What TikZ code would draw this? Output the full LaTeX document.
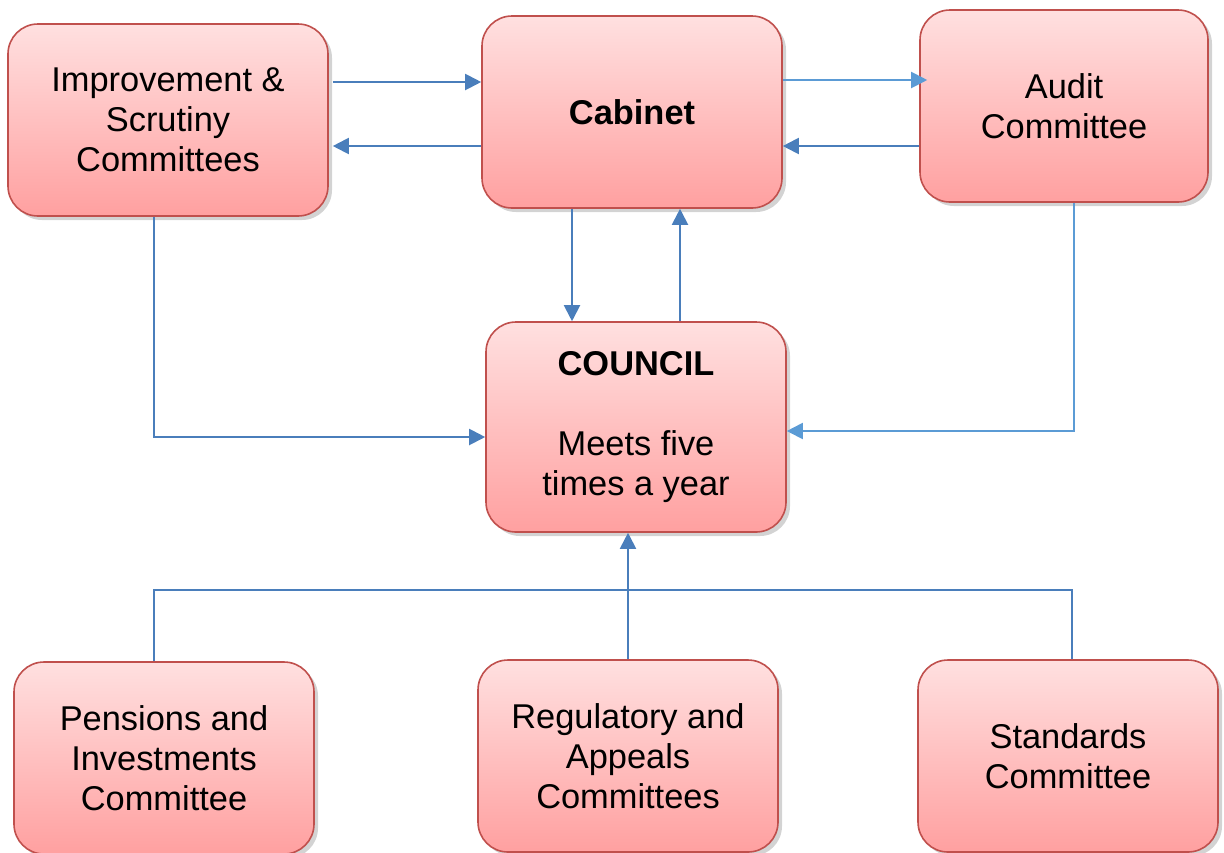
\documentclass[tikz,border=0pt]{standalone}
\usepackage{fontspec}
\setmainfont{Liberation Sans}
\usepackage{xcolor}
\usetikzlibrary{arrows.meta, positioning, shadows}

\definecolor{boxtop}{HTML}{FFE0E0}
\definecolor{boxbot}{HTML}{FFA0A0}
\definecolor{boxline}{HTML}{C0504D}
\definecolor{arrblue}{HTML}{4A7EBB}
\definecolor{arrlight}{HTML}{5B9BD5}

\begin{document}
\begin{tikzpicture}[
        x=0.5pt, y=-0.5pt,
        unit/.style={rectangle, rounded corners=15pt, draw=boxline, line width=0.8pt,
            top color=boxtop, bottom color=boxbot, align=center,
            minimum width=150pt, minimum height=96pt, inner sep=2pt,
            font=\fontsize{17.2}{20}\selectfont,
            drop shadow={opacity=0.35, shadow xshift=2pt, shadow yshift=-2pt}},
        link/.style={draw=arrblue, line width=1pt},
        arr/.style={link, -{Triangle[length=8pt, width=8pt]}}
    ]
    \useasboundingbox (0,0) rectangle (1224,852);

    % committees and council
    \node[unit, minimum width=160pt] (imp) at (168,120) {Improvement \&\\Scrutiny\\Committees};
    \node[unit] (cab) at (632,112) {\textbf{Cabinet}};
    \node[unit, minimum width=144pt] (aud) at (1064,106) {Audit\\Committee};
    \node[unit, minimum height=105pt] (cou) at (636,427) {\textbf{COUNCIL}\\ \\Meets five\\times a year};
    \node[unit] (pen) at (164,758) {Pensions and\\Investments\\Committee};
    \node[unit] (reg) at (628,756) {Regulatory and\\Appeals\\Committees};
    \node[unit] (std) at (1068,756) {Standards\\Committee};

    % top row
    \draw[arr] ([xshift=2pt, yshift=19pt]imp.east) -- ([yshift=19pt]imp.east -| cab.west);
    \draw[arr] ([yshift=-17pt]cab.west) -- ([xshift=2pt, yshift=-17pt]cab.west -| imp.east);
    \draw[arr, draw=arrlight] ([yshift=16pt]cab.east) -- ([xshift=4pt, yshift=16pt]cab.east -| aud.west);
    \draw[arr] ([yshift=-20pt]aud.west) -- ([yshift=-20pt]aud.west -| cab.east);

    % cabinet and council
    \draw[arr] ([xshift=-30pt]cab.south) -- ([xshift=-30pt]cab.south |- cou.north);
    \draw[arr] ([xshift=22pt]cou.north) -- ([xshift=22pt]cou.north |- cab.south);
    \draw[arr] ([xshift=-7pt]imp.south) |- ([yshift=-5pt]cou.west);
    \draw[arr, draw=arrlight] ([xshift=5pt]aud.south) |- ([yshift=-2pt]cou.east);

    % bottom row
    \coordinate (bus) at (0,590);
    \draw[link] ([xshift=-5pt]pen.north) |- ([xshift=2pt]std.north |- bus) -- ([xshift=2pt]std.north);
    \draw[arr] (reg.north) -- (reg.north |- cou.south);

\end{tikzpicture}
\end{document}
